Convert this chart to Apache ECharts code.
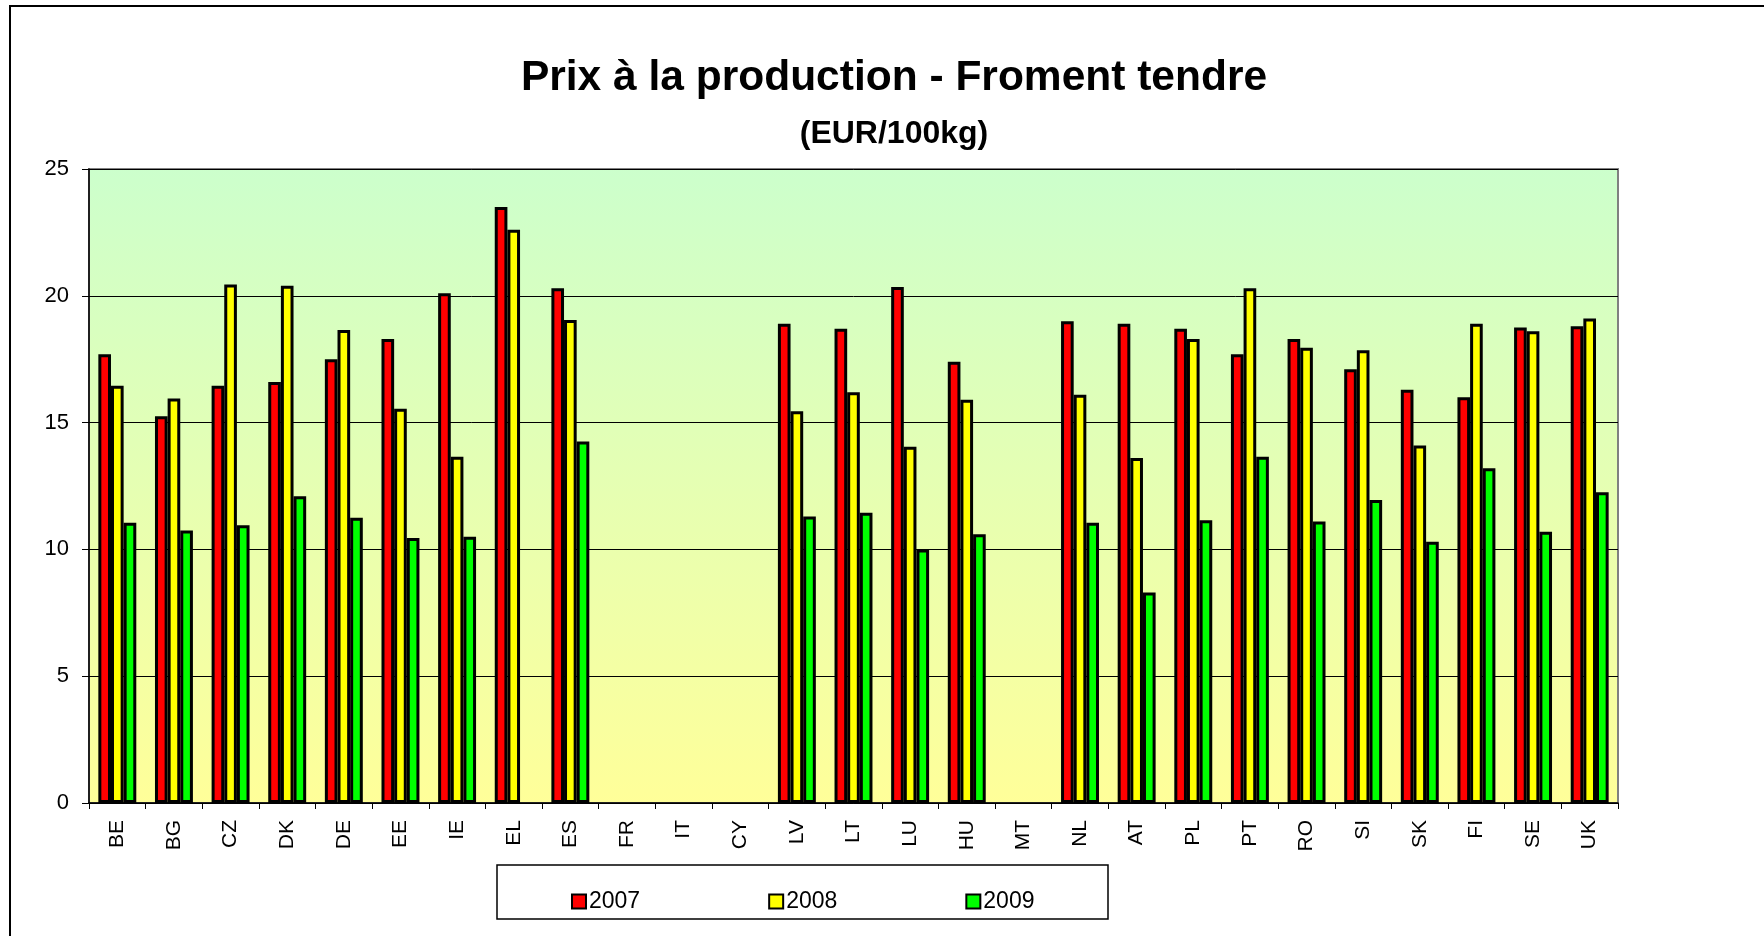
<!DOCTYPE html>
<html>
<head>
<meta charset="utf-8">
<title>Prix à la production - Froment tendre</title>
<script src="https://cdn.jsdelivr.net/npm/echarts@6/dist/echarts.min.js"></script>
<style>
  html, body { margin: 0; padding: 0; background: #ffffff; }
  #chart { width: 1764px; height: 936px; }
</style>
</head>
<body>
<div id="chart"></div>
<script>
// Member states (codes)
const countries = ['BE','BG','CZ','DK','DE','EE','IE','EL','ES','FR','IT','CY','LV','LT','LU','HU','MT','NL','AT','PL','PT','RO','SI','SK','FI','SE','UK'];

// Producer prices for soft wheat, EUR/100kg (null = not available)
const prices2007 = [17.7, 15.25, 16.45, 16.6, 17.5, 18.3, 20.1, 23.5, 20.3, null, null, null, 18.9, 18.7, 20.35, 17.4, null, 19.0, 18.9, 18.7, 17.7, 18.3, 17.1, 16.3, 16.0, 18.75, 18.8];
const prices2008 = [16.45, 15.95, 20.45, 20.4, 18.65, 15.55, 13.65, 22.6, 19.05, null, null, null, 15.45, 16.2, 14.05, 15.9, null, 16.1, 13.6, 18.3, 20.3, 17.95, 17.85, 14.1, 18.9, 18.6, 19.1];
const prices2009 = [11.05, 10.75, 10.95, 12.1, 11.25, 10.45, 10.5, null, 14.25, null, null, null, 11.3, 11.45, 10.0, 10.6, null, 11.05, 8.3, 11.15, 13.65, 11.1, 11.95, 10.3, 13.2, 10.7, 12.25];

const seriesNames = ['2007', '2008', '2009'];
const seriesColors = ['#FF0000', '#FFFF00', '#00FF00'];
const yTicks = { min: 0, max: 25, interval: 5 };

const FONT = "'Liberation Sans', Arial, sans-serif";

const chart = echarts.init(document.getElementById('chart'), null, { renderer: 'canvas' });

const values = [prices2007, prices2008, prices2009];

const series = seriesNames.map((name, i) => ({
  name: name,
  type: 'bar',
  data: values[i],
  barGap: '0%',
  barCategoryGap: '33%',
  itemStyle: {
    color: seriesColors[i],
    borderColor: '#000000',
    borderWidth: 3
  },
  emphasis: { disabled: true }
}));

const option = {
  backgroundColor: '#ffffff',
  animation: false,
  graphic: [
    // outer frame of the chart area
    {
      type: 'rect',
      shape: { x: 10, y: 6, width: 1800, height: 1000 },
      style: { fill: 'none', stroke: '#000000', lineWidth: 2 },
      silent: true
    },
    // legend frame
    {
      type: 'rect',
      shape: { x: 497, y: 865, width: 611, height: 54 },
      style: { fill: '#ffffff', stroke: '#000000', lineWidth: 1.5 },
      silent: true,
      z: 0
    },
    {
      type: 'text',
      x: 894,
      y: 78,
      style: {
        text: 'Prix à la production - Froment tendre',
        font: 'bold 42.5px ' + FONT,
        fill: '#000000',
        textAlign: 'center',
        textVerticalAlign: 'middle'
      }
    },
    {
      type: 'text',
      x: 894,
      y: 134,
      style: {
        text: '(EUR/100kg)',
        font: 'bold 32px ' + FONT,
        fill: '#000000',
        textAlign: 'center',
        textVerticalAlign: 'middle'
      }
    }
  ],
  legend: {
    data: seriesNames,
    left: 566,
    top: 885,
    icon: 'rect',
    itemWidth: 14,
    itemHeight: 14,
    itemGap: 128,
    selectedMode: false,
    z: 5,
    textStyle: { fontFamily: FONT, fontSize: 23, color: '#000000', padding: [0, 0, 0, -2] },
    itemStyle: { borderColor: '#000000', borderWidth: 2 }
  },
  grid: {
    left: 89,
    right: 146,
    top: 169,
    bottom: 133,
    show: true,
    borderColor: '#808080',
    borderWidth: 2,
    backgroundColor: {
      type: 'linear', x: 0, y: 0, x2: 0, y2: 1,
      colorStops: [
        { offset: 0, color: '#CCFFCC' },
        { offset: 1, color: '#FFFF99' }
      ]
    }
  },
  xAxis: {
    type: 'category',
    data: countries,
    boundaryGap: true,
    axisLine: { show: true, lineStyle: { color: '#000000', width: 1.5 } },
    axisTick: { show: true, interval: 0, length: 6, alignWithLabel: false, lineStyle: { color: '#000000' } },
    axisLabel: {
      interval: 0,
      rotate: 90,
      margin: 17,
      fontFamily: FONT,
      fontSize: 21,
      color: '#000000'
    },
    splitLine: { show: false }
  },
  yAxis: {
    type: 'value',
    min: yTicks.min,
    max: yTicks.max,
    interval: yTicks.interval,
    axisLine: { show: true, lineStyle: { color: '#000000', width: 1.5 } },
    axisTick: { show: true, length: 7, lineStyle: { color: '#000000' } },
    axisLabel: {
      margin: 20,
      fontFamily: FONT,
      fontSize: 22,
      color: '#000000'
    },
    splitLine: { show: true, lineStyle: { color: '#000000', width: 1 } }
  },
  series: series
};

chart.setOption(option);
</script>
</body>
</html>
